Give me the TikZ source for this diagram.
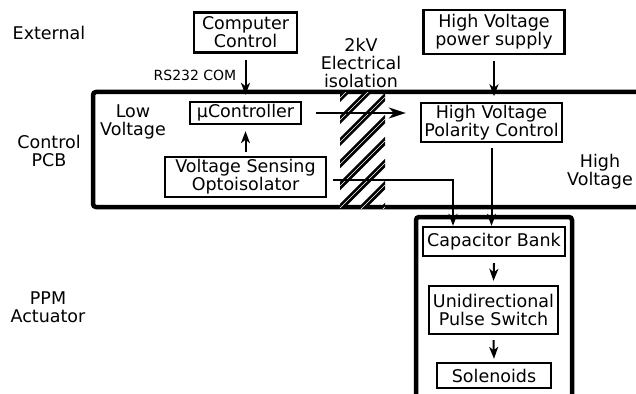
\documentclass[tikz,border=0pt]{standalone}
\usepackage{fontspec}
\setmainfont{DejaVu Sans}
\usetikzlibrary{arrows.meta,calc}
\tikzset{
  blk/.style={draw, line width=2.4pt, inner sep=0pt, align=center, font=\fontsize{17.5}{18}\selectfont},
  lbl/.style={inner sep=0pt, align=center, font=\fontsize{17.5}{18}\selectfont},
  arr/.style={line width=2pt, -{Stealth[length=12pt,width=9pt,inset=3.5pt]}},
  bigarr/.style={line width=2pt, -{Stealth[length=17pt,width=11pt,inset=5pt]}},
  frame/.style={line width=4.5pt, rounded corners=3pt},
  hatchline/.style={line width=6pt}
}
\begin{document}
\begin{tikzpicture}[x=1pt,y=-1pt]
\useasboundingbox (0,0) rectangle (636,393);
\clip (0,0) rectangle (636,393);

% side labels
\node[lbl] (ext) at (49,33) {External};
\node[lbl] (pcb) at (49,151) {Control\\PCB};
\node[lbl] (ppm) at (48,307) {PPM\\Actuator};
\node[lbl] (lowv) at (133,122) {Low\\Voltage};
\node[lbl] (highv) at (600,172) {High\\Voltage};
\node[lbl] (iso) at (361,63) {2kV\\Electrical\\isolation};

% frames
\draw[frame] (645,92) -- (93,92) -- (93,207) -- (645,207);
\draw[frame] (416,400) -- (416,217) -- (572,217) -- (572,400);

% hatched isolation barrier
\begin{scope}
\clip (340,93) rectangle (385,208);
\foreach \k in {-5,...,10} {
  \pgfmathsetmacro{\c}{438+22*\k}
  \draw[hatchline] (\c-80,80) -- (\c-220,220);
  \draw[white, line width=0.5pt] (\c-80,80) -- (\c-220,220);
}
\end{scope}

% blocks
\node[blk, minimum width=103pt, minimum height=40pt] (cc) at (245.5,32.5) {Computer\\Control};
\node[blk, minimum width=111pt, minimum height=22pt] (uc) at (245.5,113) {µController};
\node[blk, minimum width=161pt, minimum height=40pt] (opto) at (245.5,177) {Voltage Sensing\\Optoisolator};
\node[blk, minimum width=141pt, minimum height=44pt] (hvs) at (494,32) {High Voltage\\power supply};
\node[blk, minimum width=141pt, minimum height=39pt] (hvp) at (491.5,122.5) {High Voltage\\Polarity Control};
\node[blk, minimum width=142pt, minimum height=29pt] (cb) at (494,241.5) {Capacitor Bank};
\node[blk, minimum width=129pt, minimum height=48pt] (ups) at (493.5,310) {Unidirectional\\Pulse Switch};
\node[blk, minimum width=114pt, minimum height=25pt] (sol) at (494,375.5) {Solenoids};

\node[inner sep=0pt, font=\fontsize{14}{16}\selectfont] (rs) at (195,75) {RS232 COM};

% connectors
\coordinate (hvsend) at ([yshift=-41pt]hvs.south);
\coordinate (ucr) at (hvp.west |- uc.east);
\draw[arr] ([yshift=-6pt]cc.south) -- ([yshift=6pt]uc.north);
\draw[arr] ([yshift=4pt]opto.north) -- ([yshift=-6pt]uc.south);
\draw[bigarr] ([xshift=14pt]uc.east) -- ([xshift=-14pt]ucr);
\draw[arr] ([yshift=-6pt]hvs.south) -- (hvsend);
\draw[arr] ([xshift=6pt,yshift=-3pt]opto.east) -| ([xshift=-41pt]cb.north);
\draw[arr] ([yshift=-5pt]hvp.south) -- (hvp.south |- cb.north);
\draw[arr] ([yshift=-6pt]cb.south) -- ([yshift=4pt]ups.north);
\draw[arr] ([yshift=-5pt]ups.south) -- ([yshift=3pt]sol.north);
\end{tikzpicture}
\end{document}
